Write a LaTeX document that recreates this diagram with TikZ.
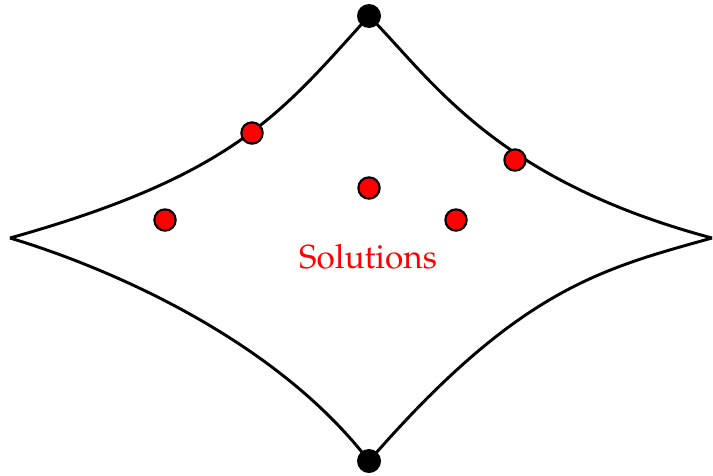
\documentclass[tikz,border=0pt]{standalone}
\usepackage[T1]{fontenc}
\usepackage{mathpazo}
\begin{document}
\begin{tikzpicture}[x=0.75pt,y=-0.75pt,
  edge/.style={line width=2.2pt,line join=round},
  bdot/.style={circle,fill=black,inner sep=0pt,minimum size=18pt},
  rdot/.style={circle,draw=black,line width=1.6pt,fill=red,inner sep=0pt,minimum size=16pt},
  lbl/.style={text=red,font=\fontsize{25}{30}\selectfont}]
\useasboundingbox (0,0) rectangle (713,475);
\coordinate (L) at (10,238);
\coordinate (R) at (712,238);
\coordinate (T) at (369,16);
\coordinate (B) at (369,461);
\draw[edge] (L) .. controls (236.8,174.5) and (282.2,111.5) .. (T);
\draw[edge] (T) .. controls (432,80) and (495,180) .. (R);
\draw[edge] (L) .. controls (105,266.5) and (274,337.5) .. (B);
\draw[edge] (B) .. controls (519,288.5) and (602,268.8) .. (R);
\node[bdot] (t) at (T) {};
\node[bdot] (b) at (B) {};
\node[rdot] (r1) at (252,133) {};
\node[rdot] (r2) at (515,160) {};
\node[rdot] (r3) at (369,188) {};
\node[rdot] (r4) at (165,220) {};
\node[rdot] (r5) at (456,220) {};
\node[lbl] (s) at (368,257) {Solutions};
\end{tikzpicture}
\end{document}
